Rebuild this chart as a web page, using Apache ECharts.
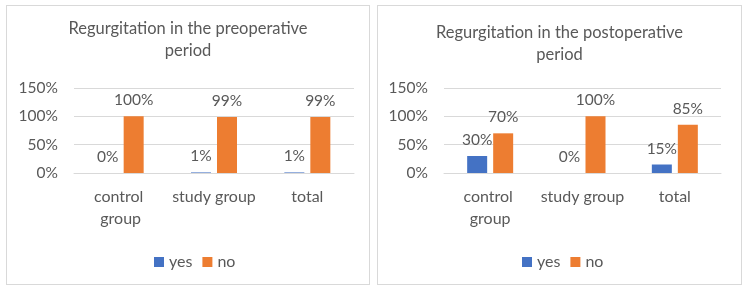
<!DOCTYPE html>
<html>
<head>
<meta charset="utf-8">
<script src="https://cdn.jsdelivr.net/npm/echarts@6/dist/echarts.min.js"></script>
<style>
  html, body { margin: 0; padding: 0; background: #fff; }
  .panel {
    position: absolute;
    top: 5px;
    height: 280px;
    box-sizing: border-box;
    border: 1px solid #d9d9d9;
  }
  #chart1 { left: 6px; width: 364px; }
  #chart2 { left: 377px; width: 365px; }
</style>
</head>
<body>
<div class="panel" id="chart1"></div>
<div class="panel" id="chart2"></div>
<script>
const categories = ['control group', 'study group', 'total'];
const seriesNames = ['yes', 'no'];
const preYes = [0, 1, 1];
const preNo = [100, 99, 99];
const postYes = [30, 0, 15];
const postNo = [70, 100, 85];
const yTicks = { min: 0, max: 150, interval: 50 };

const textColor = '#595959';
const font = 'Lato, "Open Sans", sans-serif';

function makeOption(title, yes, no, opts) {
  const label = {
    show: true,
    position: 'top',
    distance: 8,
    color: textColor,
    fontFamily: font,
    fontSize: 15.5,
    formatter: p => p.value + '%'
  };
  return {
    animation: false,
    title: {
      text: title,
      left: 'center',
      top: opts.titleTop,
      padding: opts.titlePadding,
      textStyle: {
        color: textColor,
        fontFamily: font,
        fontSize: 16.5,
        fontWeight: 'normal',
        lineHeight: 22
      }
    },
    legend: {
      data: seriesNames,
      left: opts.legendLeft,
      top: 243,
      icon: 'rect',
      itemWidth: 10,
      itemHeight: 10,
      itemGap: 10,
      itemStyle: { borderWidth: 0 },
      textStyle: { color: textColor, fontFamily: font, fontSize: 16 }
    },
    grid: { left: opts.gridLeft, right: opts.gridRight, top: 82, bottom: 111 },
    xAxis: {
      type: 'category',
      data: categories,
      axisTick: { show: false },
      axisLine: { lineStyle: { color: '#d9d9d9' } },
      axisLabel: {
        color: textColor,
        fontFamily: font,
        fontSize: 16,
        lineHeight: 22,
        margin: 13,
        width: 90,
        overflow: 'break',
        interval: 0
      }
    },
    yAxis: {
      type: 'value',
      min: yTicks.min,
      max: yTicks.max,
      interval: yTicks.interval,
      axisLine: { show: false },
      axisTick: { show: false },
      splitLine: { lineStyle: { color: '#d9d9d9' } },
      axisLabel: {
        color: textColor,
        fontFamily: font,
        fontSize: 15.5,
        margin: 16,
        formatter: '{value}%'
      }
    },
    series: [
      {
        name: 'yes',
        type: 'bar',
        data: yes,
        barWidth: 20,
        barGap: '30%',
        itemStyle: { color: '#4472c4' },
        label: label
      },
      {
        name: 'no',
        type: 'bar',
        data: no,
        barWidth: 20,
        itemStyle: { color: '#ed7d31' },
        label: label
      }
    ]
  };
}

let echart1 = echarts.init(document.getElementById('chart1'));
echart1.setOption(makeOption('Regurgitation in the preoperative\nperiod', preYes, preNo,
  { titleTop: 7, titlePadding: [5, 0, 5, 11], legendLeft: 142, gridLeft: 67, gridRight: 15 }));

let echart2 = echarts.init(document.getElementById('chart2'));
echart2.setOption(makeOption('Regurgitation in the postoperative\nperiod', postYes, postNo,
  { titleTop: 11, titlePadding: 5, legendLeft: 139, gridLeft: 66, gridRight: 20 }));
</script>
</body>
</html>
